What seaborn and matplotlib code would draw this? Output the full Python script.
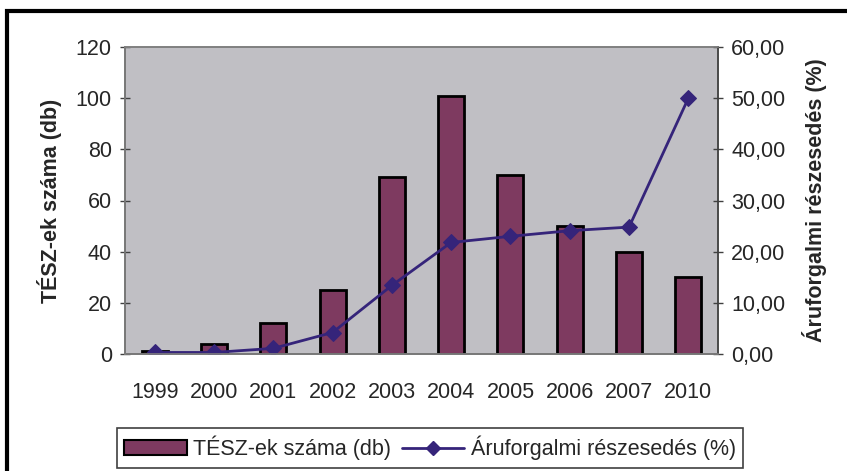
import matplotlib.pyplot as plt
import numpy as np
import pandas as pd
import seaborn as sns
from matplotlib.lines import Line2D
from matplotlib.patches import Patch, Rectangle

years = ["1999", "2000", "2001", "2002", "2003", "2004", "2005", "2006", "2007", "2010"]
tesz_count = [1, 4, 12, 25, 69, 101, 70, 50, 40, 30]
market_share = [0.3, 0.3, 1.1, 4.2, 13.4, 21.8, 23.0, 24.1, 24.8, 50.0]

bar_label = "TÉSZ-ek száma (db)"
line_label = "Áruforgalmi részesedés (%)"

bar_color = "#7E3A60"
line_color = "#35247A"
plot_bg = "#C0BFC4"
fs = 15.5

sns.set_style("white")
plt.rcParams["font.family"] = ["Liberation Sans", "DejaVu Sans"]

df = pd.DataFrame({"year": years, "count": tesz_count, "share": market_share})

fig = plt.figure(figsize=(8.47, 4.71), dpi=100)
ax = fig.add_axes([125 / 847, 1 - 354 / 471, (718 - 125) / 847, (354 - 47) / 471])
ax.set_facecolor(plot_bg)

sns.barplot(data=df, x="year", y="count", color=bar_color, width=0.44,
            edgecolor="black", linewidth=2, saturation=1, ax=ax)
ax.set_xlim(-0.5, len(years) - 0.5)
ax.set_ylim(0, 120)
ax.set_yticks(np.arange(0, 121, 20))
ax.set_xlabel("")
ax.set_ylabel("TÉSZ-ek száma (db)", fontsize=fs, fontweight="bold", labelpad=10)

# category ticks between bars, like Excel
ax.set_xticks(np.arange(len(years)))
ax.set_xticklabels(years)
ax.set_xticks(np.arange(-0.5, len(years), 1), minor=True)
ax.tick_params(axis="x", which="major", length=0, pad=20, labelsize=fs)
ax.tick_params(axis="x", which="minor", length=6, width=1, direction="out", color="#404040")
ax.tick_params(axis="y", length=7, width=1, direction="inout", color="#404040", labelsize=fs, pad=6)

ax2 = ax.twinx()
sns.lineplot(x=np.arange(len(years)), y=market_share, color=line_color, linewidth=2,
             marker="D", markersize=8, markeredgecolor=line_color, ax=ax2)
ax2.set_ylim(0, 60)
ax2.set_yticks(np.arange(0, 61, 10))
ax2.set_yticklabels([f"{v:.2f}".replace(".", ",") for v in np.arange(0, 61, 10)])
ax2.tick_params(axis="y", length=7, width=1, direction="inout", color="#404040", labelsize=fs, pad=6)
ax2.set_ylabel(line_label, fontsize=fs, fontweight="bold", labelpad=12)
ax.set_xlim(-0.5, len(years) - 0.5)

for a in (ax, ax2):
    for side, sp in a.spines.items():
        sp.set_visible(True)
        sp.set_linewidth(1.2)
        sp.set_color("#808080")
ax.spines["left"].set_color("#404040")
ax.spines["bottom"].set_color("#404040")
ax2.spines["right"].set_color("#404040")

handles = [
    Patch(facecolor=bar_color, edgecolor="black", linewidth=1.5),
    Line2D([0], [0], color=line_color, linewidth=2, marker="D", markersize=7),
]
leg = fig.legend(handles, [bar_label, line_label], loc="center",
                 bbox_to_anchor=(430 / 847, 1 - 448 / 471), ncol=2, fontsize=fs,
                 frameon=True, fancybox=False, framealpha=1, edgecolor="#404040",
                 handlelength=2.9, handletextpad=0.3, columnspacing=0.5,
                 borderpad=0.35)
leg.get_frame().set_linewidth(1.2)

# outer chart border (only top and left fall inside the image)
fig.patches.append(Rectangle((7 / 847, -0.1), 1.2, 1 - 11 / 471 + 0.1,
                             transform=fig.transFigure, fill=False,
                             edgecolor="black", linewidth=3))

fig.savefig("out.png", dpi=100)
